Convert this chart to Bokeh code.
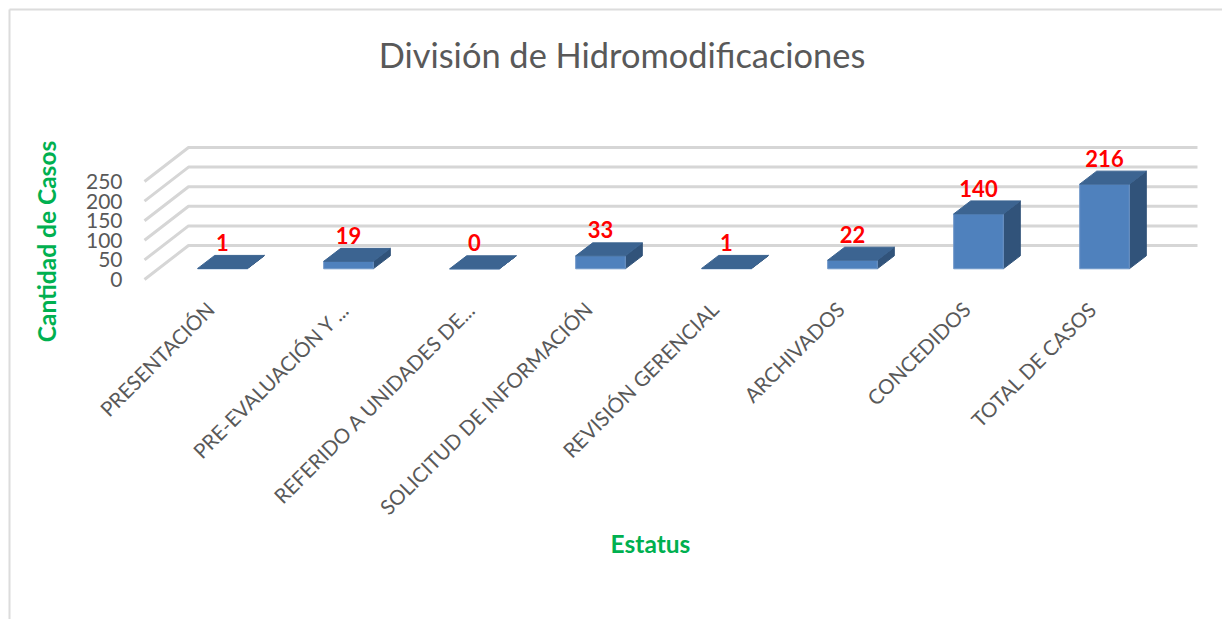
from bokeh.plotting import figure
from bokeh.embed import file_html
from bokeh.resources import INLINE
from bokeh.core.properties import value
from bokeh.models import Range1d, FixedTicker, Label

categories = ["PRESENTACIÓN", "PRE-EVALUACIÓN Y ...", "REFERIDO A UNIDADES DE...",
              "SOLICITUD DE INFORMACIÓN", "REVISIÓN GERENCIAL", "ARCHIVADOS",
              "CONCEDIDOS", "TOTAL DE CASOS"]
casos = [1, 19, 0, 33, 1, 22, 140, 216]
y_ticks = [0, 50, 100, 150, 200, 250]

FONT = "Lato"
W, H = 1222, 619
PXX, PXY = 126.0, 0.392            # pixels per category / per case
X0, Y0 = 222.0, 279.0              # page pixel of category 0 / value 0 (front plane)

def dx(px): return (px - X0) / PXX
def dy(py): return (Y0 - py) / PXY

p = figure(width=W, height=H, output_backend="svg", toolbar_location=None,
           x_range=Range1d(dx(0), dx(W)), y_range=Range1d(dy(H), dy(0)),
           min_border=0, outline_line_color=None,
           background_fill_color="white", border_fill_color="white")
p.grid.visible = False

# axes, fixed inside the plot area; the category labels sit left of the bar centres
label_shift = 12 / PXX
p.extra_x_ranges["labels"] = Range1d(dx(0) + label_shift, dx(W) + label_shift)
label_nudge = [0, 9, 9, 0, 0, 0, 0, 0]
tick_pos = [i + n / PXX for i, n in enumerate(label_nudge)]

ax = p.xaxis[0]
ax.x_range_name = "labels"
ax.fixed_location = dy(293)
ax.ticker = FixedTicker(ticks=tick_pos)
ax.major_label_overrides = {t: c for t, c in zip(tick_pos, categories)}
ax.major_label_orientation = 0.785
ax.major_label_text_font = FONT
ax.major_label_text_font_size = "20.5px"
ax.major_label_text_color = "#595959"
ax.major_label_standoff = 6
ax.axis_line_color = None
ax.major_tick_line_color = None
ax.minor_tick_line_color = None

ay = p.yaxis[0]
ay.fixed_location = dx(130)
ay.ticker = FixedTicker(ticks=y_ticks)
ay.major_label_text_font = FONT
ay.major_label_text_font_size = "21px"
ay.major_label_text_color = "#595959"
ay.major_label_standoff = 2
ay.axis_line_color = None
ay.major_tick_line_color = None
ay.minor_tick_line_color = None

# floor-to-back gridlines
back_dx = 44 / PXX
back_dy = 34 / PXY
gx0, gx1 = dx(144), dx(1197)
p.multi_line([[gx0, gx0 + back_dx, gx1] for _ in y_ticks],
             [[t, t + back_dy, t + back_dy] for t in y_ticks],
             line_color="#d6d6d6", line_width=3)

# 3D bars
half = 24.8 / PXX
ddx, ddy = 17 / PXX, 13 / PXY
base = 27.3
sx, sy, fx, fy, tx, ty = [], [], [], [], [], []
for i, v in enumerate(casos):
    b, t = base, base + v
    l, r = i - half, i + half
    fx.append([l, r, r, l]); fy.append([b, b, t, t])
    sx.append([r, r + ddx, r + ddx, r]); sy.append([b, b + ddy, t + ddy, t])
    tx.append([l, r, r + ddx, l + ddx]); ty.append([t, t, t + ddy, t + ddy])
p.patches(sx, sy, fill_color="#31537A", line_color="#31537A", line_width=1)
p.patches(fx, fy, fill_color="#4F81BD", line_color="#6F97C9", line_width=1)
p.patches(tx, ty, fill_color="#3C6491", line_color="#3C6491", line_width=1)

p.text(list(range(len(casos))), [base + v + 66 for v in casos], text=[str(v) for v in casos],
       text_font=value(FONT), text_font_style="bold", text_font_size="22px",
       text_color="#FF0000", text_align="center", text_baseline="middle")

# titles
p.add_layout(Label(x=dx(621.5), y=dy(54), text="División de Hidromodificaciones",
                   text_font=FONT, text_font_size="34.4px", text_color="#595959",
                   text_align="center", text_baseline="middle"))
p.add_layout(Label(x=dx(650), y=dy(543), text="Estatus", text_font=FONT, text_font_style="bold",
                   text_font_size="24.5px", text_color="#00B050",
                   text_align="center", text_baseline="middle"))
p.add_layout(Label(x=dx(46), y=dy(241), text="Cantidad de Casos", text_font=FONT, text_font_style="bold",
                   text_font_size="24.5px", text_color="#00B050", angle=1.5708,
                   text_align="center", text_baseline="middle"))

# chart frame (top and left edges)
p.multi_line([[dx(9), dx(W)], [dx(9), dx(9)]], [[dy(9), dy(9)], [dy(9), dy(H)]],
             line_color="#dcdcdc", line_width=2)

open("out.html", "w").write(file_html(p, INLINE))
